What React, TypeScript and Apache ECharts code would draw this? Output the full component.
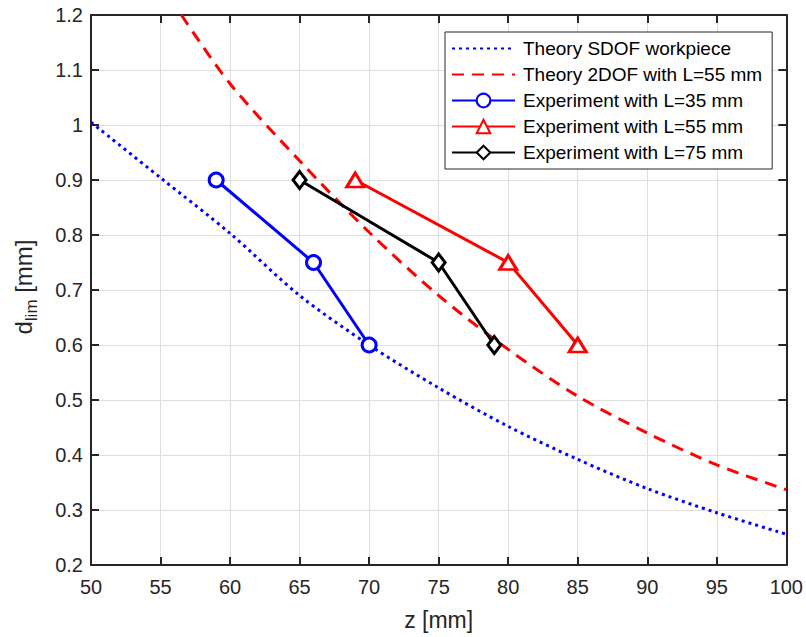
import React, { useEffect, useRef } from "react";
import * as echarts from "echarts";

const sdofZ = [50, 55, 60, 65, 70, 75, 80, 85, 90, 95, 100];
const sdofD = [1.005, 0.904, 0.803, 0.69, 0.6, 0.522, 0.452, 0.392, 0.339, 0.295, 0.256];
const twoDofZ = [56.5, 60, 65, 70, 75, 80, 85, 90, 95, 100];
const twoDofD = [1.2, 1.075, 0.935, 0.805, 0.69, 0.592, 0.507, 0.44, 0.382, 0.337];
const exp35Z = [59, 66, 70];
const exp35D = [0.9, 0.75, 0.6];
const exp55Z = [69, 80, 85];
const exp55D = [0.9, 0.75, 0.6];
const exp75Z = [65, 75, 79];
const exp75D = [0.9, 0.75, 0.6];

const seriesNames = [
  "Theory SDOF workpiece",
  "Theory 2DOF with L=55 mm",
  "Experiment with L=35 mm",
  "Experiment with L=55 mm",
  "Experiment with L=75 mm",
];

const FONT = "Liberation Sans, Arial, sans-serif";
const AX = "#262626";

const zip = (a: number[], b: number[]) => a.map((v, i) => [v, b[i]]);

export default function App() {
  const ref = useRef<HTMLDivElement>(null);
  useEffect(() => {
    if (!ref.current) return;
    const chart = echarts.init(ref.current, undefined, { renderer: "svg" });
    const axisLine = { show: true, lineStyle: { color: AX, width: 2 } };
    const axisTick = { show: true, inside: true, length: 8, lineStyle: { color: AX, width: 2 } };
    const split = { show: true, lineStyle: { color: "#dedede", width: 1 } };
    const fmt = (v: number) => String(Math.round(v * 10) / 10);
    chart.setOption({
      animation: false,
      backgroundColor: "#ffffff",
      grid: { left: 91, right: 17, top: 15, bottom: 72, containLabel: false },
      xAxis: [
        {
          type: "value", min: 50, max: 100, interval: 5, position: "bottom",
          axisLine, axisTick,
          axisLabel: { fontSize: 20, color: AX, margin: 12, fontFamily: FONT, formatter: fmt },
          splitLine: split,
          name: "z [mm]", nameLocation: "middle", nameGap: 43,
          nameTextStyle: { fontSize: 23, color: AX, fontFamily: FONT },
        },
        {
          type: "value", min: 50, max: 100, interval: 5, position: "top",
          axisLine, axisTick, axisLabel: { show: false }, splitLine: { show: false },
        },
      ],
      yAxis: [
        {
          type: "value", min: 0.2, max: 1.2, interval: 0.1, position: "left",
          axisLine, axisTick,
          axisLabel: { fontSize: 20, color: AX, margin: 8, fontFamily: FONT, formatter: fmt },
          splitLine: split,
        },
        {
          type: "value", min: 0.2, max: 1.2, interval: 0.1, position: "right",
          axisLine, axisTick, axisLabel: { show: false }, splitLine: { show: false },
        },
      ],
      legend: {
        orient: "vertical",
        left: 445,
        top: 32,
        padding: [7, 10, 7, 6],
        itemGap: 7,
        itemWidth: 63,
        itemHeight: 17,
        backgroundColor: "#ffffff",
        borderColor: AX,
        borderWidth: 1,
        borderRadius: 0,
        textStyle: { fontSize: 19, color: "#000", fontFamily: FONT, lineHeight: 19, padding: [0, 0, 0, 3] },
        data: seriesNames,
      },
      graphic: [
        {
          type: "text",
          x: 23,
          y: 287,
          rotation: Math.PI / 2,
          style: {
            text: "{d|d}{s|lim}{d| [mm]}",
            align: "center",
            verticalAlign: "middle",
            fill: AX,
            rich: {
              d: { fontSize: 24, fontFamily: FONT, fill: AX, lineHeight: 34, verticalAlign: "middle" },
              s: { fontSize: 17, fontFamily: FONT, fill: AX, lineHeight: 17, verticalAlign: "bottom" },
            },
          },
        },
      ],
      series: [
        {
          name: seriesNames[0], type: "line", data: zip(sdofZ, sdofD), smooth: 0.3,
          symbol: "circle", symbolSize: 0, showSymbol: false,
          lineStyle: { color: "#0000ff", width: 3, type: [3, 4] },
          itemStyle: { color: "rgba(0,0,0,0)" }, z: 2,
        },
        {
          name: seriesNames[1], type: "line", data: zip(twoDofZ, twoDofD), smooth: 0.3,
          symbol: "circle", symbolSize: 0, showSymbol: false,
          lineStyle: { color: "#ff0000", width: 3, type: [12, 8] },
          itemStyle: { color: "rgba(0,0,0,0)" }, z: 2,
        },
        {
          name: seriesNames[2], type: "line", data: zip(exp35Z, exp35D),
          symbol: "circle", symbolSize: 14,
          lineStyle: { color: "#0000ff", width: 3 },
          itemStyle: { color: "#ffffff", borderColor: "#0000ff", borderWidth: 3 }, z: 3,
        },
        {
          name: seriesNames[3], type: "line", data: zip(exp55Z, exp55D),
          symbol: "triangle", symbolSize: [17, 14],
          lineStyle: { color: "#ff0000", width: 3 },
          itemStyle: { color: "#ffffff", borderColor: "#ff0000", borderWidth: 3 }, z: 3,
        },
        {
          name: seriesNames[4], type: "line", data: zip(exp75Z, exp75D),
          symbol: "diamond", symbolSize: [13, 17],
          lineStyle: { color: "#000000", width: 3 },
          itemStyle: { color: "#ffffff", borderColor: "#000000", borderWidth: 3 }, z: 3,
        },
      ],
    });
    return () => chart.dispose();
  }, []);
  return <div ref={ref} style={{ width: 806, height: 637, position: "absolute", left: 0, top: 0 }} />;
}
